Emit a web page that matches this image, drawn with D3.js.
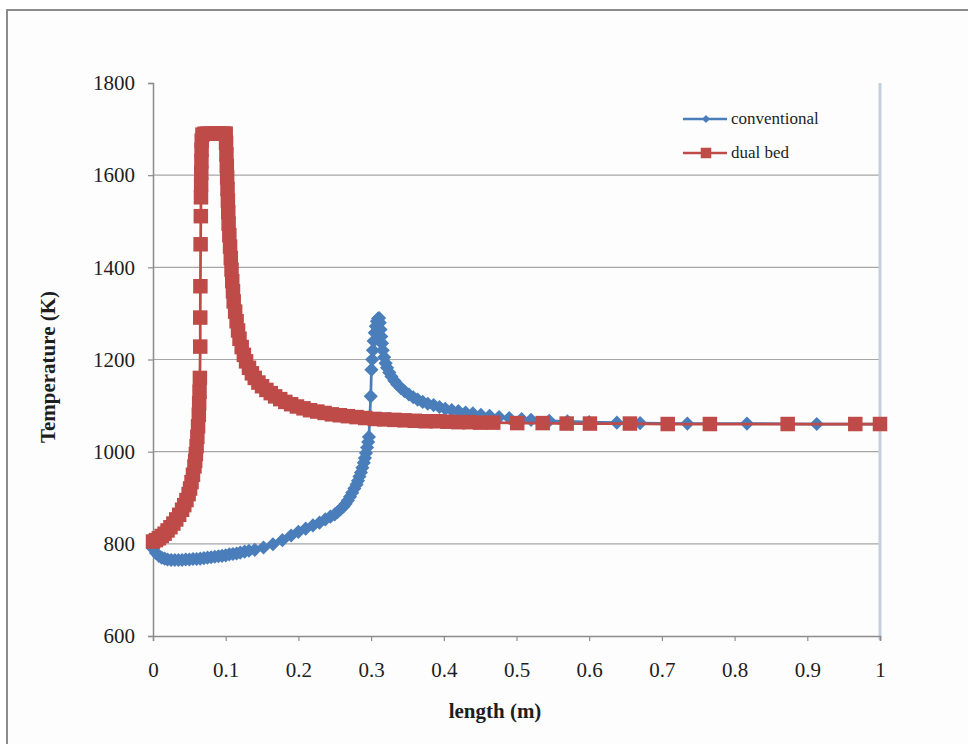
<!DOCTYPE html>
<html>
<head>
  <meta content="text/html;charset=utf-8" http-equiv="Content-Type">
  <title>Temperature profile</title>
  <style type="text/css">
    body { margin: 0; background: #fff; }
    #chart text { font-family: "Liberation Serif", "Times New Roman", serif; fill: #1e1e1e; }
    #chart .tick text { font-size: 21px; }
    #chart .title { font-size: 21px; font-weight: bold; }
    #chart .legend text { font-size: 17px; }
  </style>
  <script src="https://cdnjs.cloudflare.com/ajax/libs/d3/7.6.1/d3.min.js"></script>
  <script>

    // conventional reactor
    var conv_x = [0, 0.004, 0.008, 0.012, 0.016, 0.02, 0.025, 0.03, 0.035, 0.04, 0.045, 0.05, 0.055, 0.06,
      0.065, 0.07, 0.075, 0.08, 0.085, 0.09, 0.095, 0.1, 0.105, 0.11, 0.115, 0.12, 0.126, 0.132,
      0.14, 0.152, 0.165, 0.178, 0.19, 0.2, 0.21, 0.22, 0.229, 0.237, 0.244,
      0.25, 0.254, 0.258, 0.262, 0.265, 0.268, 0.271, 0.274, 0.277, 0.28, 0.282, 0.284, 0.286, 0.288,
      0.29, 0.2915, 0.293, 0.2945, 0.296, 0.297,
      0.2995, 0.3005, 0.3015, 0.3025, 0.3035, 0.305, 0.3065, 0.308, 0.3095, 0.311,
      0.312, 0.313, 0.314, 0.315, 0.316, 0.318, 0.32, 0.322, 0.325, 0.328, 0.332, 0.336, 0.341, 0.346,
      0.352, 0.358, 0.364, 0.371, 0.378, 0.386, 0.394, 0.402, 0.411, 0.42, 0.43, 0.44, 0.451, 0.463,
      0.476, 0.49,
      0.507, 0.52, 0.545, 0.57, 0.6, 0.638, 0.67, 0.735, 0.817, 0.913, 1.0];
    var conv_t = [790, 780, 774, 770, 768, 766, 765, 765, 765, 765, 766, 766, 767, 767,
      768, 769, 770, 771, 772, 773, 774, 775, 777, 778, 779, 781, 783, 785,
      787, 792, 799, 808, 818, 826, 833, 840, 846, 853, 859,
      864, 869, 875, 881, 887, 894, 902, 911, 920, 929, 937, 946, 955, 965,
      976, 986, 997, 1009, 1021, 1032,
      1120, 1178, 1200, 1220, 1240, 1258, 1272, 1283, 1289, 1290,
      1280, 1265, 1250, 1235, 1220, 1205, 1192, 1182, 1172, 1163, 1154, 1146, 1138, 1131,
      1124, 1118, 1113, 1108, 1104, 1101, 1097, 1093, 1090, 1088, 1085, 1083, 1080, 1078,
      1075, 1073,
      1071, 1069, 1067, 1066, 1064, 1063, 1062, 1061, 1061, 1060, 1060];

    // dual bed reactor
    var dual_x = [0, 0.004, 0.008, 0.012, 0.016, 0.02, 0.024, 0.028, 0.032, 0.036, 0.04, 0.043, 0.046,
      0.049, 0.051, 0.053, 0.055, 0.057, 0.058, 0.059, 0.06, 0.061, 0.062, 0.063, 0.0635, 0.064, 0.0645,
      0.065, 0.065, 0.0652, 0.0655, 0.0658, 0.066, 0.0662, 0.0664, 0.0666, 0.0668, 0.067, 0.068,
      0.071, 0.075, 0.079, 0.083, 0.087, 0.091, 0.095, 0.098, 0.1, 0.1005, 0.101, 0.1015, 0.102,
      0.1025, 0.103, 0.1035, 0.104, 0.105, 0.106, 0.107, 0.108, 0.109, 0.11, 0.111, 0.113, 0.115,
      0.117, 0.119, 0.122, 0.125, 0.128, 0.132, 0.136, 0.14, 0.145, 0.15, 0.156, 0.162, 0.168, 0.175,
      0.182, 0.19, 0.198, 0.207, 0.216, 0.226, 0.236, 0.246, 0.257, 0.268, 0.28, 0.292, 0.305, 0.318,
      0.332, 0.346, 0.36, 0.375, 0.39, 0.405, 0.42, 0.435, 0.45, 0.468, 0.501, 0.536, 0.569, 0.601,
      0.656, 0.708, 0.766, 0.873, 0.966, 1.0];
    var dual_t = [805, 808, 812, 817, 822, 829, 836, 844, 853, 863, 874, 884, 895,
      908, 920, 934, 950, 968, 980, 995, 1012, 1032, 1055, 1080, 1105, 1130, 1160,
      1228, 1291, 1359, 1450, 1511, 1552, 1580, 1605, 1630, 1655, 1675, 1688,
      1690, 1690, 1690, 1690, 1690, 1690, 1690, 1690, 1690, 1670, 1645, 1620, 1595,
      1570, 1545, 1520, 1495, 1470, 1445, 1420, 1395, 1370, 1348, 1326, 1304, 1283,
      1263, 1245, 1227, 1210, 1196, 1182, 1170, 1160, 1150, 1142, 1134, 1127, 1120, 1114,
      1108, 1103, 1098, 1094, 1090, 1087, 1084, 1081, 1079, 1077, 1075, 1073, 1071, 1070,
      1069, 1068, 1067, 1066, 1066, 1065, 1064, 1064, 1063, 1063, 1062, 1062, 1061, 1061,
      1061, 1060, 1060, 1060, 1060, 1060];

    var x_ticks = [0, 0.1, 0.2, 0.3, 0.4, 0.5, 0.6, 0.7, 0.8, 0.9, 1];
    var y_ticks = [600, 800, 1000, 1200, 1400, 1600, 1800];
    var grid_vals = [800, 1000, 1200, 1400, 1600];

    var series_names = ['conventional', 'dual bed'];
    var series_colors = ['#4a7ebb', '#be4b48'];

    function main() {

      var svg = d3.select('#chart').
            attr('width', 968).
            attr('height', 744);

      // outer chart frame
      svg.append('rect').
            attr('x', 7).attr('y', 10).
            attr('width', 1000).attr('height', 800).
            attr('fill', '#fdfdfd').
            attr('stroke', '#8c8c8c').
            attr('stroke-width', 2);

      var x = d3.scaleLinear().domain([0, 1]).range([153, 880]);
      var y = d3.scaleLinear().domain([600, 1800]).range([636, 83]);

      // horizontal gridlines
      svg.append('g').
            selectAll('line').
            data(grid_vals).
          enter().append('line').
            attr('x1', x(0)).attr('x2', x(1)).
            attr('y1', y).attr('y2', y).
            attr('stroke', '#a6a6a6').
            attr('stroke-width', 1.2);

      // right edge of plot area
      svg.append('line').
            attr('x1', x(1)).attr('x2', x(1)).
            attr('y1', y(1800)).attr('y2', y(600) + 4).
            attr('stroke', '#c4d0de').
            attr('stroke-width', 3);

      var xAxis = svg.append('g').
            attr('transform', 'translate(0,' + y(600) + ')').
            call(d3.axisBottom(x).tickValues(x_ticks).tickSize(5).tickPadding(21).
                 tickFormat(d3.format('~g')));

      var yAxis = svg.append('g').
            attr('transform', 'translate(' + x(0) + ',0)').
            call(d3.axisLeft(y).tickValues(y_ticks).tickSize(5).tickPadding(13).
                 tickFormat(d3.format('d')));

      [xAxis, yAxis].forEach(function(a) {
        a.select('.domain').attr('stroke', '#8c8c8c').attr('stroke-width', 1.5);
        a.selectAll('.tick line').attr('stroke', '#8c8c8c').attr('stroke-width', 1.2);
        a.selectAll('.tick text').attr('fill', '#1e1e1e');
      });

      // axis titles
      svg.append('text').
            attr('class', 'title').
            attr('x', 495).attr('y', 718).
            attr('text-anchor', 'middle').
            text('length (m)');

      svg.append('text').
            attr('class', 'title').
            attr('transform', 'translate(55,367) rotate(-90)').
            attr('text-anchor', 'middle').
            text('Temperature (K)');

      var line = d3.line().
            x(function(d) { return x(d[0]); }).
            y(function(d) { return y(d[1]); });

      var diamond = d3.symbol().type(d3.symbolSquare).size(100);
      var square = d3.symbol().type(d3.symbolSquare).size(210);

      var series = [
        { pts: d3.zip(conv_x, conv_t), color: series_colors[0], sym: diamond, rot: 45 },
        { pts: d3.zip(dual_x, dual_t), color: series_colors[1], sym: square, rot: 0 }
      ];

      series.forEach(function(s) {
        var g = svg.append('g');
        g.append('path').
              attr('d', line(s.pts)).
              attr('fill', 'none').
              attr('stroke', s.color).
              attr('stroke-width', 2.75);
        g.selectAll('path.mark').
              data(s.pts).
            enter().append('path').
              attr('class', 'mark').
              attr('d', s.sym).
              attr('fill', s.color).
              attr('transform', function(d) {
                return 'translate(' + x(d[0]) + ',' + y(d[1]) + ') rotate(' + s.rot + ')';
              });
      });

      // legend
      var legend = svg.append('g').attr('class', 'legend');
      series.forEach(function(s, i) {
        var ly = 119 + i * 34;
        legend.append('line').
              attr('x1', 683).attr('x2', 727).
              attr('y1', ly).attr('y2', ly).
              attr('stroke', s.color).
              attr('stroke-width', 2.5);
        legend.append('path').
              attr('d', i === 0 ? d3.symbol().type(d3.symbolSquare).size(32)() :
                                  d3.symbol().type(d3.symbolSquare).size(110)()).
              attr('fill', s.color).
              attr('transform', 'translate(706,' + ly + ') rotate(' + s.rot + ')');
        legend.append('text').
              attr('x', 731).attr('y', ly + 5).
              text(series_names[i]);
      });
    }

  </script>
</head>
<body onload='main()'>

  <svg id="chart"></svg>

</body>
</html>
